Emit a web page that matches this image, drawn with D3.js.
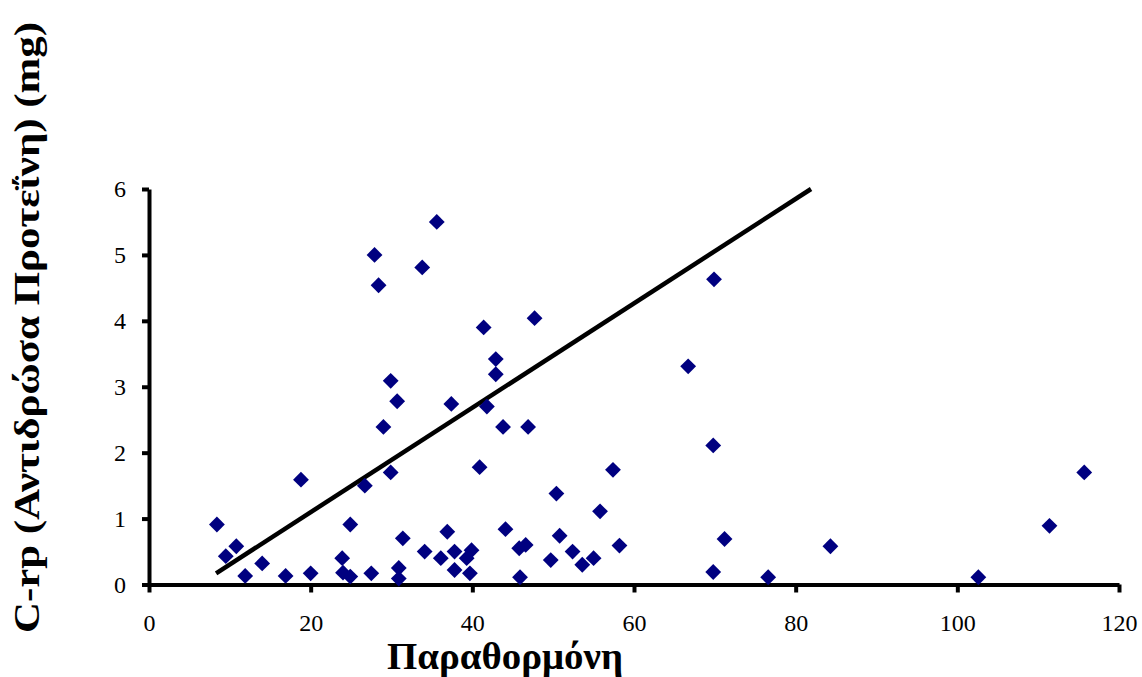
<!DOCTYPE html>
<html>
<head>
<meta charset="utf-8">
<script src="https://cdn.jsdelivr.net/npm/d3@7"></script>
<style>
  html, body { margin: 0; padding: 0; background: #fff; }
  svg { display: block; }
  text { font-family: "Times New Roman", "Liberation Serif", serif; }
</style>
</head>
<body>
<svg id="chart" width="1142" height="677"></svg>
<script>
// Parathormone (x) vs C-reactive protein (y), one point per patient
const pthValues = [
  8.4, 9.5, 10.8, 11.9, 14.0, 16.9, 20.0, 18.8, 23.9, 24.0,
  24.9, 24.9, 27.5, 26.7, 27.9, 28.4, 29.0, 29.9, 30.7, 29.9,
  30.9, 30.9, 31.4, 33.8, 35.6, 34.1, 36.1, 36.9, 37.4, 37.8,
  37.8, 39.3, 39.9, 39.7, 41.4, 40.9, 41.8, 42.9, 42.9, 43.8,
  44.1, 45.8, 46.6, 45.9, 46.9, 47.7, 49.7, 50.4, 50.8, 52.4,
  53.6, 55.0, 55.8, 57.4, 58.2, 66.7, 69.9, 69.8, 69.8, 71.2,
  76.6, 84.3, 102.6, 111.4, 115.7
];
const crpValues = [
  0.91, 0.43, 0.58, 0.13, 0.32, 0.13, 0.17, 1.59, 0.40, 0.18,
  0.12, 0.91, 0.17, 1.50, 5.00, 4.54, 2.39, 3.09, 2.78, 1.70,
  0.25, 0.09, 0.70, 4.81, 5.50, 0.50, 0.40, 0.80, 2.74, 0.50,
  0.22, 0.40, 0.52, 0.17, 3.90, 1.78, 2.70, 3.42, 3.19, 2.39,
  0.84, 0.55, 0.60, 0.11, 2.39, 4.04, 0.37, 1.38, 0.74, 0.50,
  0.30, 0.40, 1.11, 1.74, 0.59, 3.31, 4.63, 2.11, 0.19, 0.69,
  0.11, 0.58, 0.11, 0.89, 1.70
];

// Straight trend line, drawn between its two end points
const trendX = [8.3, 81.9];
const trendY = [0.17, 6.0];

const xTicks = [0, 20, 40, 60, 80, 100, 120];
const yTicks = [0, 1, 2, 3, 4, 5, 6];

const xTitle = "Παραθορμόνη";
const yTitle = "C-rp (Αντιδρώσα Προτεΐνη) (mg)";

const svg = d3.select("#chart");

const x = d3.scaleLinear().domain([0, 120]).range([149, 1119]);
const y = d3.scaleLinear().domain([0, 6]).range([584.5, 189]);

// Axes
const xAxis = svg.append("g")
  .attr("transform", `translate(0,${y(0)})`)
  .call(d3.axisBottom(x).tickValues(xTicks).tickFormat(d3.format("d"))
    .tickSizeInner(8).tickSizeOuter(0).tickPadding(21));

const yAxis = svg.append("g")
  .attr("transform", `translate(${x(0)},0)`)
  .call(d3.axisLeft(y).tickValues(yTicks).tickFormat(d3.format("d"))
    .tickSizeInner(7).tickSizeOuter(0).tickPadding(16));

[xAxis, yAxis].forEach(g => {
  g.select(".domain").attr("stroke", "#000").attr("stroke-width", 4);
  g.selectAll(".tick line").attr("stroke", "#000").attr("stroke-width", 4);
  g.selectAll(".tick text")
    .attr("fill", "#000")
    .style("font-family", '"Times New Roman", "Liberation Serif", serif')
    .style("font-size", "24px");
});

// Trend line
const trend = trendX.map((v, i) => [v, trendY[i]]);
svg.append("path")
  .datum(trend)
  .attr("fill", "none")
  .attr("stroke", "#000")
  .attr("stroke-width", 4.5)
  .attr("d", d3.line().x(d => x(d[0])).y(d => y(d[1])));

// Diamond markers
const diamond = d3.symbol().type(d3.symbolSquare).size(125);
svg.append("g")
  .selectAll("path")
  .data(pthValues.map((v, i) => [v, crpValues[i]]))
  .join("path")
  .attr("d", diamond)
  .attr("fill", "#000080")
  .attr("transform", d => `translate(${x(d[0])},${y(d[1])}) rotate(45)`);

// Axis titles
svg.append("text")
  .attr("x", 505)
  .attr("y", 669)
  .attr("text-anchor", "middle")
  .attr("font-weight", "bold")
  .attr("font-size", 37)
  .attr("textLength", 236)
  .attr("lengthAdjust", "spacingAndGlyphs")
  .attr("fill", "#000")
  .text(xTitle);

svg.append("text")
  .attr("transform", "translate(39,327.5) rotate(-90)")
  .attr("text-anchor", "middle")
  .attr("font-weight", "bold")
  .attr("font-size", 36)
  .attr("textLength", 611)
  .attr("lengthAdjust", "spacingAndGlyphs")
  .attr("fill", "#000")
  .text(yTitle);
</script>
</body>
</html>
